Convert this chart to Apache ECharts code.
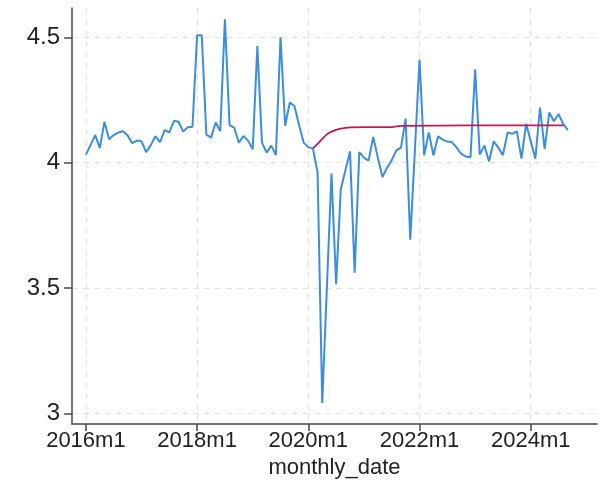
<!DOCTYPE html>
<html>
<head>
<meta charset="utf-8">
<script src="https://cdn.jsdelivr.net/npm/echarts@6/dist/echarts.min.js"></script>
<style>
  html, body { margin: 0; padding: 0; background: #fff; }
  #chart { width: 603px; height: 484px; }
</style>
</head>
<body>
<div id="chart"></div>
<script>
// Monthly series, starting 2016m1 (month index 0) through 2024m9 (index 104)
const startYear = 2016;
const monthlyValues = [
  4.032, 4.070, 4.110, 4.058, 4.163, 4.093, 4.110, 4.120, 4.125, 4.108, // 2016m1-m10
  4.078, 4.088, 4.085, 4.042, 4.070, 4.105, 4.082, 4.130, 4.121, 4.167, // 2016m11-2017m8
  4.163, 4.124, 4.141, 4.143, 4.508, 4.508, 4.112, 4.100, 4.160, 4.125, // 2017m9-2018m6
  4.572, 4.150, 4.140, 4.080, 4.106, 4.088, 4.053, 4.465, 4.080, 4.040, // 2018m7-2019m4
  4.068, 4.030, 4.500, 4.147, 4.240, 4.226, 4.150, 4.080, 4.062, 4.056, // 2019m5-2020m2
  3.960, 3.041, 3.500, 3.957, 3.515, 3.893, 3.970, 4.045, 3.561, 4.042, // 2020m3-2020m12
  4.020, 4.008, 4.102, 4.020, 3.943, 3.980, 4.010, 4.049, 4.060, 4.176, // 2021m1-2021m10
  3.693, 4.050, 4.411, 4.029, 4.121, 4.029, 4.105, 4.092, 4.084, 4.082, // 2021m11-2022m8
  4.060, 4.035, 4.025, 4.022, 4.372, 4.032, 4.068, 4.005, 4.085, 4.060, // 2022m9-2023m6
  4.030, 4.120, 4.115, 4.125, 4.016, 4.155, 4.085, 4.016, 4.220, 4.055, // 2023m7-2024m4
  4.200, 4.165, 4.194, 4.155, 4.130                                      // 2024m5-2024m9
];

// Fitted path from 2020m2 onward (month index, value)
const fitMonths = [49, 50, 51, 52, 53, 54, 55, 56, 57, 60, 66, 68, 103];
const fitValues = [4.057, 4.075, 4.095, 4.113, 4.124, 4.131, 4.136, 4.139, 4.141, 4.142, 4.142, 4.147, 4.149];

// Axis ticks
const xTickMonths = [0, 24, 48, 72, 96];
const xTickLabels = ['2016m1', '2018m1', '2020m1', '2022m1', '2024m1'];
const yTicks = [3, 3.5, 4, 4.5];

const monthLabel = (m) => {
  const idx = xTickMonths.indexOf(m);
  if (idx >= 0) return xTickLabels[idx];
  return (startYear + Math.floor(m / 12)) + 'm' + (m % 12 + 1);
};

const chart = echarts.init(document.getElementById('chart'), null, { renderer: 'canvas' });

const textFont = 'Liberation Sans, Arial, Helvetica, sans-serif';
const gridLine = { show: true, lineStyle: { color: '#e3e3e3', type: [6, 5], width: 1 } };

chart.setOption({
  animation: false,
  backgroundColor: '#ffffff',
  grid: { left: 72, right: 6, top: 8, bottom: 56 },
  xAxis: {
    type: 'value',
    min: -3,
    max: 110.3,
    name: 'monthly_date',
    nameLocation: 'middle',
    nameGap: 27,
    nameTextStyle: { fontFamily: textFont, fontSize: 22, color: '#222' },
    axisLine: { show: true, onZero: false, lineStyle: { color: '#4a4a4a', width: 1.5 } },
    axisTick: { show: true, length: 7, lineStyle: { color: '#4a4a4a', width: 1.5 }, customValues: xTickMonths },
    axisLabel: {
      customValues: xTickMonths,
      formatter: (v) => monthLabel(v),
      fontFamily: textFont, fontSize: 22, color: '#222', margin: 6
    },
    splitLine: gridLine
  },
  yAxis: {
    type: 'value',
    min: 2.957,
    max: 4.617,
    axisLine: { show: true, onZero: false, lineStyle: { color: '#4a4a4a', width: 1.5 } },
    axisTick: { show: true, length: 8, lineStyle: { color: '#4a4a4a', width: 1.5 }, customValues: yTicks },
    axisLabel: {
      customValues: yTicks,
      formatter: (v) => String(v),
      fontFamily: textFont, fontSize: 24, color: '#222', margin: 12
    },
    splitLine: gridLine
  },
  series: [
    {
      name: 'monthly value',
      type: 'line',
      data: monthlyValues.map((v, i) => [i, v]),
      showSymbol: false,
      lineStyle: { color: '#3b8de0', width: 2 },
      itemStyle: { color: '#3b8de0' },
      z: 2
    },
    {
      name: 'fitted',
      type: 'line',
      data: fitMonths.map((m, i) => [m, fitValues[i]]),
      showSymbol: false,
      smooth: 0.3,
      lineStyle: { color: '#c21a54', width: 1.8 },
      itemStyle: { color: '#c21a54' },
      z: 3
    }
  ]
});
</script>
</body>
</html>
